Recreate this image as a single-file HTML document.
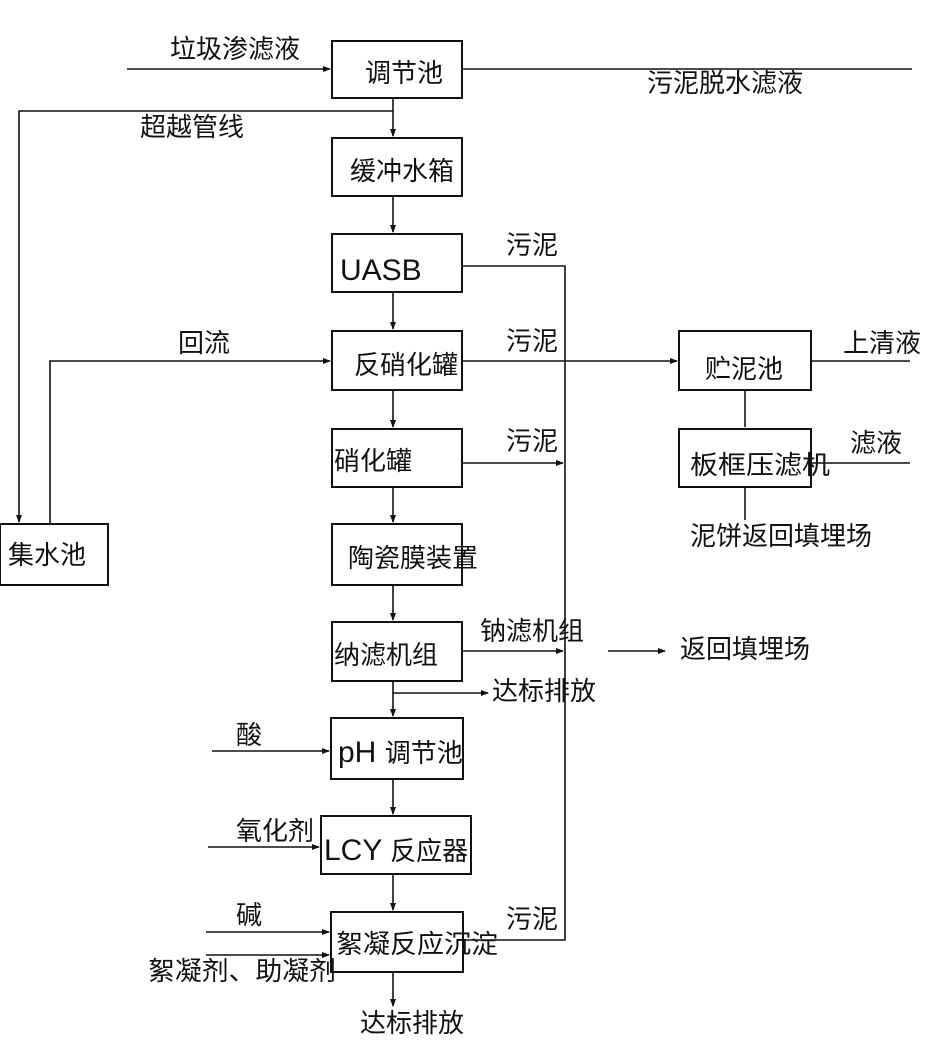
<!DOCTYPE html>
<html><head><meta charset="utf-8"><style>
html,body{margin:0;padding:0;background:#fff;}
svg text{font-family:"Liberation Sans","Noto Sans CJK SC",sans-serif;fill:#111;}
</style></head><body>
<svg width="928" height="1050" viewBox="0 0 928 1050" xmlns="http://www.w3.org/2000/svg">
<defs><marker id="a" markerWidth="8" markerHeight="8" refX="7" refY="4" orient="auto" markerUnits="userSpaceOnUse"><path d="M0,1 L8,4 L0,7 z" fill="#111"/></marker></defs>
<g fill="none" stroke="#111" stroke-width="2">
<rect x="332" y="41" width="130" height="57"/>
<rect x="332" y="138" width="130" height="58"/>
<rect x="332" y="234" width="130" height="58"/>
<rect x="332" y="331" width="130" height="59"/>
<rect x="332" y="429" width="130" height="58"/>
<rect x="332" y="524" width="130" height="61"/>
<rect x="332" y="622" width="130" height="59"/>
<rect x="331" y="718" width="132" height="61"/>
<rect x="321" y="816" width="150" height="58"/>
<rect x="331" y="912" width="132" height="60"/>
<rect x="0" y="524" width="108" height="61"/>
<rect x="679" y="331" width="132" height="59"/>
<rect x="679" y="429" width="132" height="58"/>
</g>
<g fill="none" stroke="#111" stroke-width="1.6">
<line x1="127" y1="69" x2="330" y2="69" marker-end="url(#a)"/>
<line x1="462" y1="69" x2="912" y2="69"/>
<polyline points="393,98 393,136" marker-end="url(#a)"/>
<polyline points="393,111 19,111 19,522" marker-end="url(#a)"/>
<line x1="393" y1="196" x2="393" y2="232" marker-end="url(#a)"/>
<line x1="393" y1="292" x2="393" y2="329" marker-end="url(#a)"/>
<line x1="393" y1="390" x2="393" y2="427" marker-end="url(#a)"/>
<line x1="393" y1="487" x2="393" y2="522" marker-end="url(#a)"/>
<line x1="393" y1="585" x2="393" y2="620" marker-end="url(#a)"/>
<line x1="393" y1="681" x2="393" y2="716" marker-end="url(#a)"/>
<line x1="393" y1="779" x2="393" y2="814" marker-end="url(#a)"/>
<line x1="393" y1="874" x2="393" y2="910" marker-end="url(#a)"/>
<line x1="393" y1="972" x2="393" y2="1006" marker-end="url(#a)"/>
<polyline points="50,524 50,361 330,361" marker-end="url(#a)"/>
<polyline points="462,266 565,266 565,940 463,940"/>
<line x1="462" y1="361" x2="677" y2="361" marker-end="url(#a)"/>
<line x1="462" y1="463" x2="563" y2="463" marker-end="url(#a)"/>
<line x1="462" y1="651" x2="563" y2="651" marker-end="url(#a)"/>
<line x1="608" y1="651" x2="665" y2="651" marker-end="url(#a)"/>
<line x1="393" y1="693" x2="488" y2="693" marker-end="url(#a)"/>
<line x1="745" y1="390" x2="745" y2="427"/>
<line x1="745" y1="487" x2="745" y2="520"/>
<line x1="811" y1="361" x2="910" y2="361"/>
<line x1="811" y1="463" x2="910" y2="463"/>
<line x1="212" y1="751" x2="329" y2="751" marker-end="url(#a)"/>
<line x1="208" y1="847" x2="319" y2="847" marker-end="url(#a)"/>
<line x1="206" y1="932" x2="329" y2="932" marker-end="url(#a)"/>
<line x1="206" y1="955" x2="329" y2="955" marker-end="url(#a)"/>
</g>
<g font-size="26">
<text x="365" y="82">调节池</text>
<text x="350" y="180">缓冲水箱</text>
<text x="340" y="280" font-size="30">UASB</text>
<text x="354" y="374">反硝化罐</text>
<text x="334" y="470">硝化罐</text>
<text x="348" y="567">陶瓷膜装置</text>
<text x="334" y="664">纳滤机组</text>
<text x="338" y="762"><tspan font-size="30">pH </tspan>调节池</text>
<text x="324" y="860"><tspan font-size="30">LCY </tspan>反应器</text>
<text x="336" y="953" textLength="162" lengthAdjust="spacingAndGlyphs">絮凝反应沉淀</text>
<text x="8" y="564">集水池</text>
<text x="705" y="378">贮泥池</text>
<text x="690" y="474" textLength="140" lengthAdjust="spacingAndGlyphs">板框压滤机</text>
<text x="170" y="58">垃圾渗滤液</text>
<text x="647" y="92">污泥脱水滤液</text>
<text x="140" y="136">超越管线</text>
<text x="506" y="254">污泥</text>
<text x="178" y="352">回流</text>
<text x="506" y="350">污泥</text>
<text x="506" y="450">污泥</text>
<text x="843" y="352">上清液</text>
<text x="850" y="452">滤液</text>
<text x="690" y="545">泥饼返回填埋场</text>
<text x="480" y="640">钠滤机组</text>
<text x="680" y="658">返回填埋场</text>
<text x="492" y="700">达标排放</text>
<text x="236" y="744">酸</text>
<text x="236" y="840">氧化剂</text>
<text x="236" y="924">碱</text>
<text x="506" y="928">污泥</text>
<text x="148" y="980" textLength="188" lengthAdjust="spacingAndGlyphs">絮凝剂、助凝剂</text>
<text x="360" y="1032">达标排放</text>
</g>
</svg>
</body></html>
